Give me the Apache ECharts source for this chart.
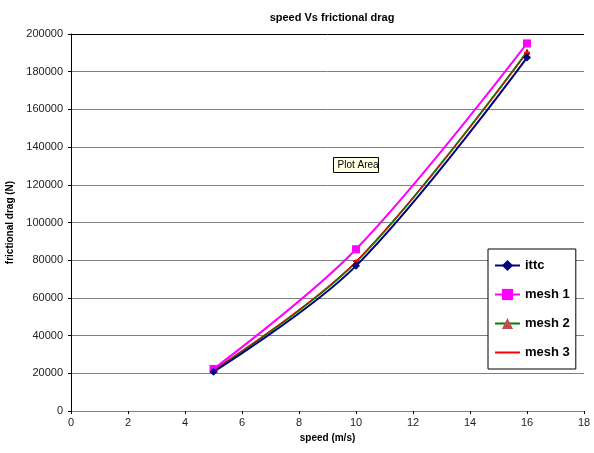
<!DOCTYPE html>
<html><head><meta charset="utf-8">
<script src="https://cdn.jsdelivr.net/npm/echarts@6/dist/echarts.min.js"></script>
<style>html,body{margin:0;padding:0;background:#fff}#c{width:594px;height:453px}</style>
</head><body><div id="c"></div>
<script>
const speeds = [5, 10, 16];
const ittc = [20800, 77000, 187500];
const mesh1 = [22300, 85800, 195000];
const mesh2 = [21500, 79000, 190500];
const mesh3 = [21800, 79500, 190000];
const seriesNames = ['ittc', 'mesh 1', 'mesh 2', 'mesh 3'];

function pts(arr){ return speeds.map((s,i)=>[s, arr[i]]); }
const gridColors = ['#808080','#808080','#808080','#808080','#808080','#808080','#808080','#808080','#808080','#808080','#000000'];

const chart = echarts.init(document.getElementById('c'));
chart.setOption({
  animation: false,
  backgroundColor: '#fff',
  textStyle: { fontFamily: 'Liberation Sans, Arial, sans-serif' },
  title: { text: 'speed Vs frictional drag', left: 327, top: 7, textAlign: 'center',
    textStyle: { fontSize: 11, fontWeight: 'bold', color: '#000' } },
  grid: { left: 71, right: 10, top: 34, bottom: 42, show: false, containLabel: false, outerBoundsMode: 'none' },
  xAxis: { type: 'value', min: 0, max: 18, interval: 2,
    name: 'speed (m/s)', nameLocation: 'middle', nameGap: 20,
    nameTextStyle: { fontSize: 10, fontWeight: 'bold', color: '#000' },
    axisLine: { lineStyle: { color: '#808080', width: 1 } },
    axisTick: { show: true, length: 3, lineStyle: { color: '#000' } },
    axisLabel: { fontSize: 11, color: '#222', margin: 6 },
    splitLine: { show: false } },
  yAxis: { type: 'value', min: 0, max: 200000, interval: 20000,
    name: 'frictional drag (N)', nameLocation: 'middle', nameGap: 56,
    nameTextStyle: { fontSize: 10, fontWeight: 'bold', color: '#000' },
    axisLine: { show: true, lineStyle: { color: '#000', width: 1 } },
    axisTick: { show: true, length: 3, lineStyle: { color: '#000' } },
    axisLabel: { fontSize: 11, color: '#222', margin: 8, formatter: v => String(v) },
    splitLine: { show: true, lineStyle: { color: gridColors, width: 1 } } },
  legend: {
    orient: 'vertical', left: 488, top: 249,
    padding: [10, 6, 10, 6], itemGap: 16, itemWidth: 25, itemHeight: 14,
    backgroundColor: '#fff', borderColor: '#000', borderWidth: 1,
    textStyle: { fontSize: 13, fontWeight: 'bold', color: '#000' },
    data: [
      { name: 'ittc' },
      { name: 'mesh 1' },
      { name: 'mesh 2' },
      { name: 'mesh 3', itemStyle: { opacity: 0 } }
    ]
  },
  series: [
    { name: 'ittc', type: 'line', smooth: 0.35, data: pts(ittc),
      symbol: 'diamond', symbolSize: 8, z: 5,
      lineStyle: { color: '#000080', width: 2 }, itemStyle: { color: '#000080' } },
    { name: 'mesh 1', type: 'line', smooth: 0.35, data: pts(mesh1),
      symbol: 'rect', symbolSize: 8, z: 4,
      lineStyle: { color: '#FF00FF', width: 2 }, itemStyle: { color: '#FF00FF' } },
    { name: 'mesh 2', type: 'line', smooth: 0.35, data: pts(mesh2),
      symbol: 'triangle', symbolSize: 5, z: 3,
      lineStyle: { color: '#008000', width: 2 }, itemStyle: { color: '#C0504D', borderColor: '#800000' } },
    { name: 'mesh 3', type: 'line', smooth: 0.35, data: pts(mesh3),
      symbol: 'rect', symbolSize: [6, 2], z: 3,
      lineStyle: { color: '#FF0000', width: 1 }, itemStyle: { color: '#FF0000' } }
  ],
  graphic: [
    { type: 'group', left: 333, top: 157, children: [
      { type: 'rect', shape: { x: 0, y: 0, width: 45, height: 15 },
        style: { fill: '#FFFFE1', stroke: '#000', lineWidth: 1 } },
      { type: 'text', x: 4, y: 3, style: { text: 'Plot Area', fontSize: 10, fill: '#000', fontFamily: 'Liberation Sans, Arial, sans-serif' } }
    ] }
  ]
});
</script></body></html>
